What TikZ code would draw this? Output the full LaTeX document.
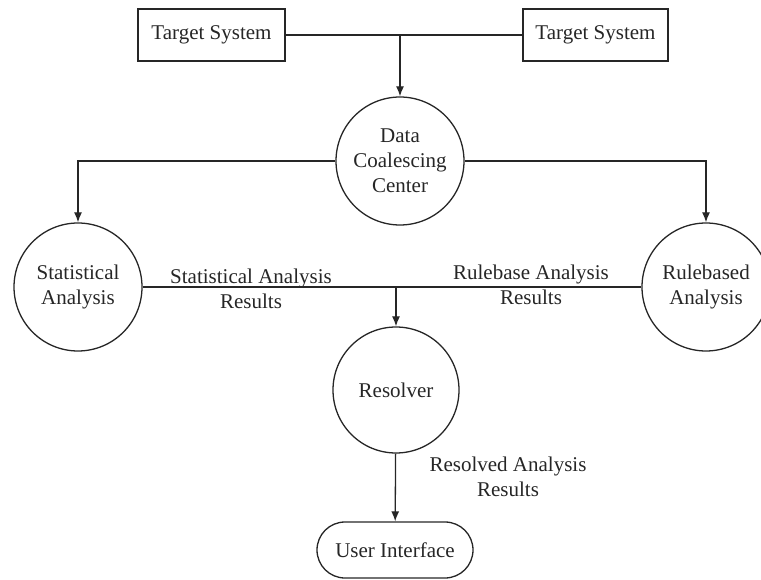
\documentclass[tikz,border=0pt]{standalone}
\usepackage{fontspec}
\setmainfont{Liberation Serif}
\usetikzlibrary{arrows.meta}
\begin{document}
\begin{tikzpicture}[x=1pt,y=-1pt,
  every node/.style={font=\fontsize{21}{25}\selectfont, text=black!85, align=center},
  proc/.style={draw=black!85, circle, line width=1.3pt, minimum size=128pt, inner sep=0pt},
  term/.style={draw=black!85, line width=1.3pt, minimum width=147pt, minimum height=52pt, inner sep=0pt},
  flow/.style={draw=black!85, line width=1.3pt},
  arr/.style={flow, -{Latex[length=10pt,width=8pt]}},
  lbl/.style={inner sep=0pt}]
\useasboundingbox (0,0) rectangle (761,580);

% external systems
\node[term] (ts1) at (211.5,35) {Target System};
\node[term, minimum width=145pt] (ts2) at (595.5,35) {Target System};

% processes
\node[proc] (dcc) at (400,161) {Data\\Coalescing\\Center};
\node[proc] (sa) at (78,287) {Statistical\\Analysis};
\node[proc] (ra) at (706,287) {Rulebased\\Analysis};
\node[proc, minimum size=126pt] (res) at (396,390) {Resolver};
\node[draw=black!85, rounded corners=28pt, line width=1.3pt,
      minimum width=156pt, minimum height=56pt, inner sep=0pt] (ui) at (395,550) {User Interface};

% junction points on the shared lines
\coordinate (j1) at (400,35);
\coordinate (j2) at (396,287);

% data flows
\draw[flow] (ts1) -- (ts2);
\draw[arr] (j1) -- (dcc);
\draw[arr] (dcc.west) -| (sa.north);
\draw[arr] (dcc.east) -| (ra.north);
\draw[flow] (sa.east) -- (ra.west);
\draw[arr] (j2) -- (res);
\draw[arr] (res) -- (ui);

% flow labels
\node[lbl] (l1) at (251,289) {Statistical Analysis\\Results};
\node[lbl] (l2) at (531,285) {Rulebase Analysis\\Results};
\node[lbl] (l3) at (508,477) {Resolved Analysis\\Results};
\end{tikzpicture}
\end{document}
